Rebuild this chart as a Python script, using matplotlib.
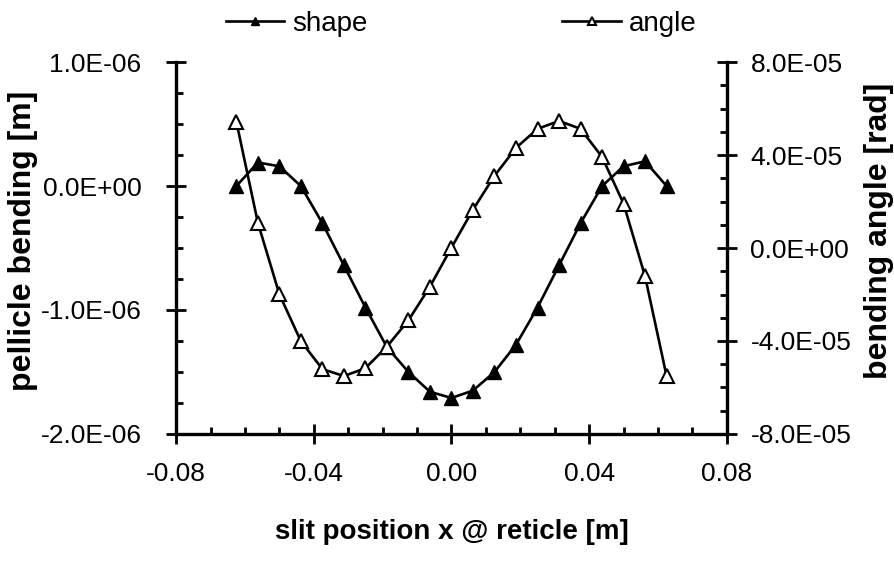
import matplotlib
matplotlib.use("Agg")
import matplotlib.pyplot as plt
from matplotlib.ticker import MultipleLocator, FuncFormatter

plt.rcParams["font.family"] = ["Liberation Sans", "DejaVu Sans"]

# slit position x @ reticle [m]
x_pos = [-0.0625, -0.05625, -0.05, -0.04375, -0.0375, -0.03125, -0.025,
         -0.01875, -0.0125, -0.00625, 0.0, 0.00625, 0.0125, 0.01875,
         0.025, 0.03125, 0.0375, 0.04375, 0.05, 0.05625, 0.0625]

# pellicle bending [m]
shape = [0.0, 0.19e-6, 0.16e-6, 0.0, -0.30e-6, -0.64e-6, -0.98e-6,
         -1.30e-6, -1.50e-6, -1.66e-6, -1.71e-6, -1.65e-6, -1.50e-6,
         -1.28e-6, -0.98e-6, -0.64e-6, -0.30e-6, 0.0, 0.16e-6, 0.20e-6, 0.0]

# bending angle [rad]
angle = [5.44e-5, 1.09e-5, -1.99e-5, -4.01e-5, -5.21e-5, -5.51e-5, -5.17e-5,
         -4.24e-5, -3.11e-5, -1.66e-5, 0.02e-5, 1.65e-5, 3.11e-5, 4.31e-5,
         5.13e-5, 5.47e-5, 5.13e-5, 3.92e-5, 1.91e-5, -1.22e-5, -5.51e-5]


def sci_fmt(v, pos):
    if abs(v) < 1e-12:
        v = 0.0
    return f"{v:.1E}"


def x_fmt(v, pos):
    if abs(v) < 1e-9:
        v = 0.0
    return f"{v:.2f}"


fig = plt.figure(figsize=(8.94, 5.65), dpi=100)
ax = fig.add_axes([0.197, 0.232, 0.616, 0.658])
ax2 = ax.twinx()

(l1,) = ax.plot(x_pos, shape, color="black", lw=1.9, marker="^", ms=10,
                mfc="black", mec="black", label="shape", zorder=3)
(l2,) = ax2.plot(x_pos, angle, color="black", lw=1.9, marker="^", ms=10,
                 mfc="white", mec="black", mew=1.5, label="angle", zorder=3)

ax.set_xlim(-0.08, 0.08)
ax.set_ylim(-2e-6, 1e-6)
ax2.set_ylim(-8e-5, 8e-5)

ax.xaxis.set_major_locator(MultipleLocator(0.04))
ax.xaxis.set_minor_locator(MultipleLocator(0.01))
ax.yaxis.set_major_locator(MultipleLocator(1e-6))
ax.yaxis.set_minor_locator(MultipleLocator(0.25e-6))
ax2.yaxis.set_major_locator(MultipleLocator(4e-5))
ax2.yaxis.set_minor_locator(MultipleLocator(1e-5))

ax.xaxis.set_major_formatter(FuncFormatter(x_fmt))
ax.yaxis.set_major_formatter(FuncFormatter(sci_fmt))
ax2.yaxis.set_major_formatter(FuncFormatter(sci_fmt))

for a in (ax, ax2):
    for sp in a.spines.values():
        sp.set_linewidth(2.4)
    a.spines["top"].set_visible(False)

ax.spines["right"].set_visible(False)
ax2.spines["left"].set_visible(False)
ax2.spines["bottom"].set_visible(False)

ax.tick_params(axis="x", which="major", direction="inout", length=14, width=2,
               labelsize=19, pad=13)
ax.tick_params(axis="x", which="minor", direction="in", length=5, width=2)
ax.tick_params(axis="y", which="major", direction="inout", length=14, width=2,
               labelsize=19, pad=18)
ax.tick_params(axis="y", which="minor", direction="in", length=5, width=2)
ax2.tick_params(axis="y", which="major", direction="inout", length=14, width=2,
                labelsize=19, pad=10)
ax2.tick_params(axis="y", which="minor", direction="in", length=5, width=2)

ax.set_xlabel("slit position x @ reticle [m]", fontsize=20, fontweight="bold",
              labelpad=24)
ax.set_ylabel("pellicle bending [m]", fontsize=23, fontweight="bold")
ax.yaxis.set_label_coords(-0.25, 0.52)
ax2.set_ylabel("bending angle [rad]", fontsize=23, fontweight="bold")
ax2.yaxis.set_label_coords(1.25, 0.546)

fig.legend(handles=[l1, l2], loc="center", bbox_to_anchor=(0.516, 0.958),
           ncol=2, frameon=False, fontsize=20, markerscale=0.55,
           handlelength=2.1, handletextpad=0.3, columnspacing=7.0)

fig.savefig("out.png", dpi=100)
